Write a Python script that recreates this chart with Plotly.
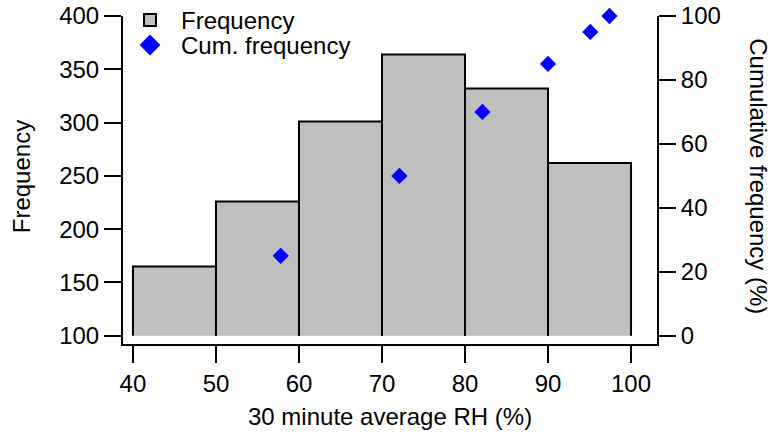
import plotly.graph_objects as go

# Histogram of 30-minute average relative humidity
bin_edges = [40, 50, 60, 70, 80, 90, 100]
frequency = [165, 226, 301, 364, 332, 262]
freq_floor = 100  # bottom of the frequency axis, where the bars start

# Cumulative frequency (%) at selected RH values
cum_rh = [57.8, 72.1, 82.1, 90.0, 95.1, 97.4]
cum_pct = [25, 50, 70, 85, 95, 100]

x_ticks = [40, 50, 60, 70, 80, 90, 100]
y_ticks = [100, 150, 200, 250, 300, 350, 400]
y2_ticks = [0, 20, 40, 60, 80, 100]

FONT = "Liberation Sans, Arial, sans-serif"
BAR_FILL = "#bfbfbf"

# Bar outlines: left edge, top, right edge of every bin (open at the bottom);
# fill='toself' closes each segment for the gray fill.
bx, by = [], []
for i, f in enumerate(frequency):
    x0, x1 = bin_edges[i], bin_edges[i + 1]
    bx += [x0, x0, x1, x1, None]
    by += [freq_floor, f, f, freq_floor, None]

fig = go.Figure()

fig.add_trace(go.Scatter(
    x=bx, y=by, mode="lines", fill="toself", fillcolor=BAR_FILL,
    line=dict(color="black", width=2), showlegend=False, hoverinfo="skip",
))

fig.add_trace(go.Scatter(
    x=cum_rh, y=cum_pct, yaxis="y2", mode="markers", cliponaxis=False,
    marker=dict(symbol="diamond", size=12.5, color="blue", line=dict(width=0)),
    showlegend=False,
))

# Legend entries
fig.add_trace(go.Bar(
    x=[None], y=[None], name="Frequency",
    marker=dict(color=BAR_FILL, line=dict(color="black", width=2)),
    legend="legend",
))
fig.add_trace(go.Scatter(
    x=[None], y=[None], name="Cum. frequency", mode="markers",
    marker=dict(symbol="diamond", size=17, color="blue", line=dict(width=0)),
    legend="legend2",
))

axis_common = dict(
    showline=True, linewidth=2, linecolor="black",
    ticks="outside", ticklen=17, tickwidth=2, tickcolor="black",
    showgrid=False, zeroline=False, automargin=False,
    tickfont=dict(family=FONT, size=24, color="black"),
)

fig.update_layout(
    width=773, height=434,
    margin=dict(l=123, r=116, t=16, b=90, autoexpand=False),
    paper_bgcolor="white", plot_bgcolor="white",
    font=dict(family=FONT, size=24, color="black"),
    xaxis=dict(range=[38.8, 103.13], tickvals=x_ticks, **axis_common),
    yaxis=dict(range=[92.3, 400], tickvals=y_ticks, **axis_common),
    yaxis2=dict(range=[-2.56, 100], tickvals=y2_ticks, overlaying="y",
                side="right", **axis_common),
    legend=dict(x=-0.0075, y=1.055, xanchor="left", yanchor="top",
                itemwidth=52, bgcolor="rgba(0,0,0,0)",
                font=dict(family=FONT, size=24)),
    legend2=dict(x=-0.0075, y=0.979, xanchor="left", yanchor="top",
                 itemwidth=52, bgcolor="rgba(0,0,0,0)",
                 font=dict(family=FONT, size=24)),
    annotations=[
        dict(text="30 minute average RH (%)", xref="paper", yref="paper",
             x=0.5, y=-0.22, xanchor="center", yanchor="middle",
             showarrow=False, font=dict(family=FONT, size=24)),
        dict(text="Frequency", xref="paper", yref="paper",
             x=-0.19, y=0.51, xanchor="center", yanchor="middle",
             textangle=-90, showarrow=False, font=dict(family=FONT, size=24)),
        dict(text="Cumulative frequency (%)", xref="paper", yref="paper",
             x=1.19, y=0.51, xanchor="center", yanchor="middle",
             textangle=90, showarrow=False, font=dict(family=FONT, size=24)),
    ],
)

fig.write_html("out.html")
